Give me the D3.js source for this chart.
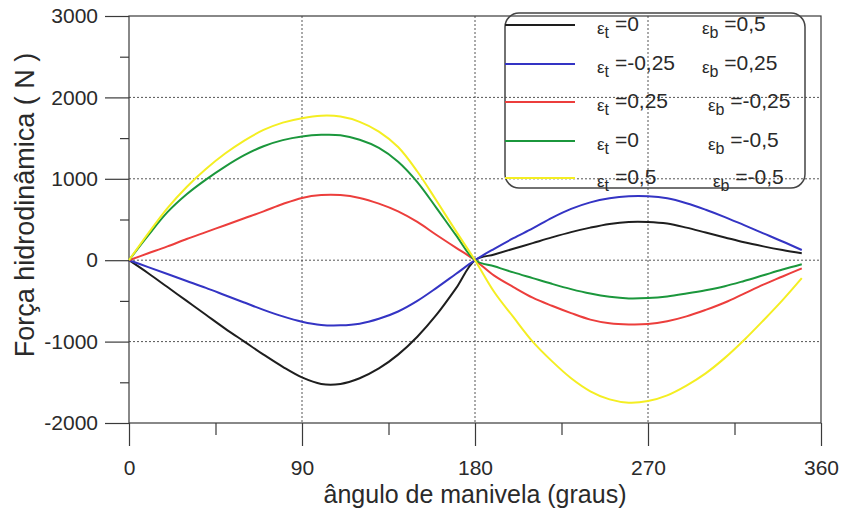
<!DOCTYPE html>
<html>
<head>
<meta charset="utf-8">
<script src="https://cdn.jsdelivr.net/npm/d3@7/dist/d3.min.js"></script>
<style>
    body { margin: 0; background: #fff; }
    svg text { font-family: "Liberation Sans", Arial, sans-serif; fill: #2a2a2a; }
</style>
</head>
<body>
<div id="chart"></div>
<script>

// crank angle (degrees)
const angles = [0, 10, 20, 30, 40, 50, 60, 70, 80, 90, 100, 110, 120, 130, 140, 150, 160, 170,
    180, 190, 200, 210, 220, 230, 240, 250, 260, 270, 280, 290, 300, 310, 320, 330, 340, 350];

// hydrodynamic force (N)
const forceT0B05 = [0, -160, -330, -500, -670, -840, -1000, -1160, -1310, -1440, -1520, -1520, -1450, -1330, -1160, -940, -670, -350,
    0, 70, 140, 210, 280, 345, 400, 445, 470, 470, 450, 400, 340, 280, 220, 170, 125, 85];
const forceTm025B025 = [0, -85, -170, -255, -340, -430, -520, -610, -690, -755, -795, -800, -780, -720, -630, -500, -340, -170,
    0, 140, 270, 390, 520, 630, 710, 760, 785, 785, 760, 700, 620, 530, 430, 330, 230, 125];
const forceT025Bm025 = [0, 85, 170, 260, 345, 430, 515, 600, 690, 765, 800, 800, 765, 695, 600, 470, 310, 155,
    0, -190, -330, -460, -560, -650, -730, -775, -790, -785, -750, -690, -610, -520, -410, -300, -200, -100];
const forceT0Bm05 = [0, 305, 590, 810, 990, 1150, 1290, 1400, 1475, 1520, 1540, 1535, 1480, 1380, 1210, 960, 640, 310,
    0, -75, -150, -220, -290, -355, -410, -450, -470, -465, -445, -410, -370, -320, -255, -185, -115, -50];
const forceT05Bm05 = [0, 330, 640, 900, 1120, 1310, 1470, 1600, 1690, 1745, 1775, 1765, 1700, 1580, 1390, 1090, 730, 360,
    0, -390, -700, -1000, -1240, -1450, -1610, -1710, -1750, -1730, -1660, -1540, -1390, -1200, -980, -740, -490, -220];

const epsT = ["0", "-0,25", "0,25", "0", "0,5"];
const epsB = ["0,5", "0,25", "-0,25", "-0,5", "-0,5"];

const xTicks = [0, 90, 180, 270, 360];
const xMinor = [45, 135, 225, 315];
const yTicks = [-2000, -1000, 0, 1000, 2000, 3000];
const yMinor = [-1500, -500, 500, 1500, 2500];

const allSeries = [forceT0B05, forceTm025B025, forceT025Bm025, forceT0Bm05, forceT05Bm05];
const colors = ["#1e1e1e", "#3434c4", "#ec3e3c", "#1b973c", "#f4ee22"];

const W = 842, H = 512;
const margin = {top: 16, right: 21, bottom: 89, left: 129};

const svg = d3.select("#chart").append("svg")
    .attr("width", W)
    .attr("height", H);

const x = d3.scaleLinear().domain([0, 360]).range([margin.left, W - margin.right]);
const y = d3.scaleLinear().domain([-2000, 3000]).range([H - margin.bottom, margin.top]);

// dotted grid
const grid = svg.append("g").attr("class", "grid")
    .attr("stroke", "#555").attr("stroke-width", 1).attr("stroke-dasharray", "2,2");
grid.selectAll(".gx").data([90, 180, 270]).enter().append("line")
    .attr("x1", d => x(d)).attr("x2", d => x(d))
    .attr("y1", y(3000)).attr("y2", y(-2000));
grid.selectAll(".gy").data([-1000, 0, 1000, 2000]).enter().append("line")
    .attr("x1", x(0)).attr("x2", x(360))
    .attr("y1", d => y(d)).attr("y2", d => y(d));

// frame
svg.append("rect")
    .attr("x", x(0)).attr("y", y(3000))
    .attr("width", x(360) - x(0)).attr("height", y(-2000) - y(3000))
    .attr("fill", "none").attr("stroke", "#3a3a3a").attr("stroke-width", 1.2);

// axes (plain hyphen for negatives, like the original)
const yAxis = d3.axisLeft(y).tickValues(yTicks).tickSize(24).tickPadding(7).tickFormat(d => String(d));
const yAxisMinor = d3.axisLeft(y).tickValues(yMinor).tickSize(9).tickFormat("");
const xAxis = d3.axisBottom(x).tickValues(xTicks).tickSize(23).tickPadding(14).tickFormat(d => String(d));
const xAxisMinor = d3.axisBottom(x).tickValues(xMinor).tickSize(12).tickFormat("");

function styleAxis(g) {
    g.select(".domain").remove();
    g.selectAll(".tick line").attr("stroke", "#3a3a3a").attr("stroke-width", 1.2);
    g.selectAll(".tick text").style("font-size", "21px").attr("fill", "#2a2a2a");
}

svg.append("g").attr("transform", "translate(" + x(0) + ",0)").call(yAxis).call(styleAxis);
svg.append("g").attr("transform", "translate(" + x(0) + ",0)").call(yAxisMinor).call(styleAxis);
svg.append("g").attr("transform", "translate(0," + y(-2000) + ")").call(xAxis).call(styleAxis);
svg.append("g").attr("transform", "translate(0," + y(-2000) + ")").call(xAxisMinor).call(styleAxis);

// axis titles
svg.append("text")
    .attr("x", (x(0) + x(360)) / 2)
    .attr("y", 503)
    .attr("text-anchor", "middle")
    .style("font-size", "25px")
    .text("ângulo de manivela (graus)");

svg.append("text")
    .attr("transform", "translate(34,205) rotate(-90)")
    .attr("text-anchor", "middle")
    .style("font-size", "27px")
    .text("Força hidrodinâmica ( N )");

// curves
const line = d3.line()
    .x((d, i) => x(angles[i]))
    .y(d => y(d))
    .curve(d3.curveCatmullRom.alpha(0.5));

svg.append("g").attr("class", "curves")
    .selectAll("path").data(allSeries).enter().append("path")
    .attr("d", line)
    .attr("fill", "none")
    .attr("stroke", (d, i) => colors[i])
    .attr("stroke-width", 2);

// legend
const leg = {x: 505, y: 13, w: 300, h: 175, rowY: [25, 64, 102, 141, 178], bX: [702, 702, 708, 708, 713]};
const legend = svg.append("g").attr("class", "legend");

legend.append("rect")
    .attr("x", leg.x).attr("y", leg.y)
    .attr("width", leg.w).attr("height", leg.h)
    .attr("rx", 14).attr("ry", 14)
    .attr("fill", "none").attr("stroke", "#444").attr("stroke-width", 1.5);

legend.selectAll(".leg-line").data(colors).enter().append("line")
    .attr("x1", leg.x).attr("x2", leg.x + 70)
    .attr("y1", (d, i) => leg.rowY[i]).attr("y2", (d, i) => leg.rowY[i])
    .attr("stroke", d => d).attr("stroke-width", 2);

function epsLabel(sel, sub, val, xPos, yPos) {
    const t = sel.append("text").attr("x", xPos).attr("y", yPos).style("font-size", "21px");
    t.append("tspan").style("font-size", "17px").attr("dy", 3).text("ε");
    t.append("tspan").style("font-size", "16px").attr("dy", 4).text(sub);
    t.append("tspan").attr("dy", -7).text(" =" + val);
}

epsT.forEach((v, i) => {
    epsLabel(legend, "t", v, 597, leg.rowY[i] + 6);
    epsLabel(legend, "b", epsB[i], leg.bX[i], leg.rowY[i] + 6);
});

</script>
</body>
</html>
